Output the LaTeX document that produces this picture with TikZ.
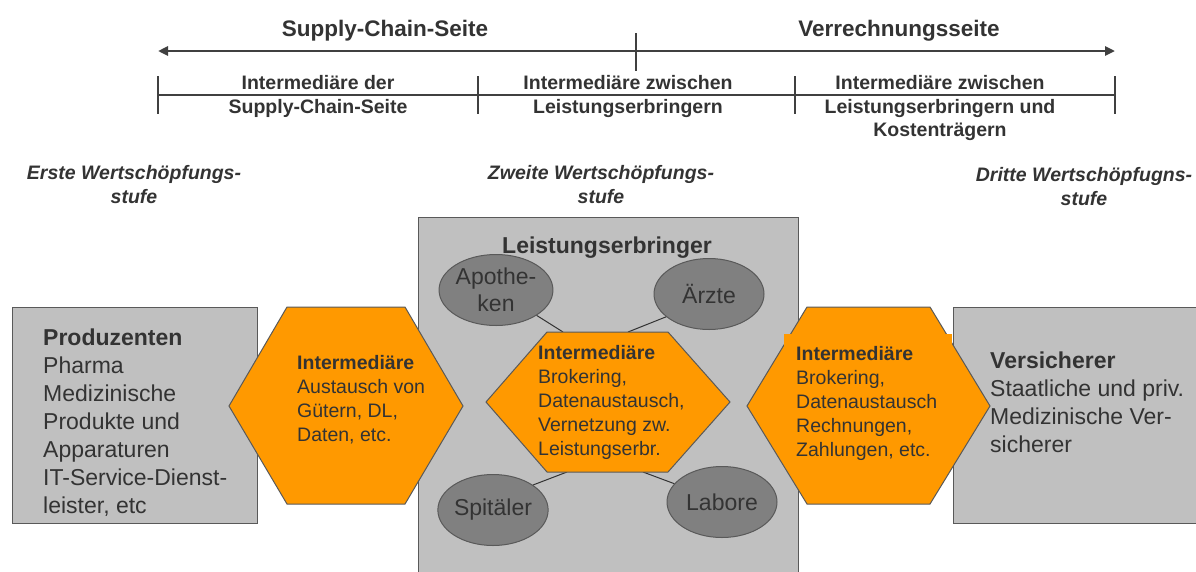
\documentclass[tikz,border=0pt]{standalone}
\usepackage{fontspec}
\setmainfont{Liberation Sans}
\usetikzlibrary{shapes.geometric,arrows.meta}
\definecolor{txt}{HTML}{333333}
\definecolor{rulec}{HTML}{404040}
\definecolor{boxgray}{HTML}{C0C0C0}
\definecolor{ellgray}{HTML}{808080}
\definecolor{orng}{HTML}{FF9900}
\definecolor{edgec}{HTML}{595959}

\begin{document}
\begin{tikzpicture}[x=1pt,y=-1pt,
  scaleline/.style={draw=rulec, line width=2.6pt},
  headfont/.style={font=\fontsize{22.5}{26}\selectfont\bfseries, text=txt, inner sep=0pt, anchor=base},
  bandfont/.style={font=\fontsize{19.5}{24}\selectfont\bfseries, text=txt, align=center, inner sep=0pt, anchor=base},
  stagefont/.style={font=\fontsize{19.5}{24}\selectfont\bfseries\itshape, text=txt, align=center, inner sep=0pt, anchor=base},
  actor/.style={draw=edgec, fill=boxgray, line width=1pt},
  actortext/.style={font=\fontsize{23}{28}\selectfont, text=txt, align=left, anchor=base west, inner sep=0pt},
  hexfill/.style={draw=edgec, fill=orng, line width=1pt},
  hextext/.style={font=\fontsize{19.5}{24}\selectfont, text=txt, align=left, anchor=base west, inner sep=0pt},
  member/.style={ellipse, draw=edgec, fill=ellgray, line width=1pt, minimum width=110pt, minimum height=71pt, inner sep=0pt, font=\fontsize{23}{27}\selectfont, text=txt, align=center},
  link/.style={draw=txt, line width=1pt}
]
\useasboundingbox (0,0) rectangle (1196,571);
\clip (0,0) rectangle (1196,571);

% ---- top scales ----
% (multi-line nodes are placed by the baseline of their last line)
\coordinate (sideL) at (158,51);
\coordinate (sideR) at (1115,51);
\coordinate (sideTop) at (636,33);
\coordinate (sideBot) at (636,71);
\draw[scaleline, {Triangle[length=10pt,width=9pt]}-{Triangle[length=10pt,width=9pt]}] (sideL) -- (sideR);
\draw[scaleline] (sideTop) -- (sideBot);
\node[headfont] (scside) at (385,36) {Supply-Chain-Seite};
\node[headfont] (vside) at (899,36) {Verrechnungsseite};

\coordinate (bandL) at (158,95);
\coordinate (bandR) at (1115,95);
\draw[scaleline] (bandL) -- (bandR);
\foreach \tx in {158,478,795,1115}
  \draw[scaleline] (\tx,76) -- (\tx,114);
\node[bandfont] (band1) at (318,113.5) {Intermediäre der\\Supply-Chain-Seite};
\node[bandfont] (band2) at (628,113.5) {Intermediäre zwischen\\Leistungserbringern};
\node[bandfont, font=\fontsize{19.5}{23.5}\selectfont\bfseries] (band3) at (940,136.5) {Intermediäre zwischen\\Leistungserbringern und\\Kostenträgern};

% ---- value-creation stages ----
\node[stagefont] (stage1) at (134,203.5) {Erste Wertschöpfungs-\\stufe};
\node[stagefont] (stage2) at (601,203.5) {Zweite Wertschöpfungs-\\stufe};
\node[stagefont] (stage3) at (1084,205) {Dritte Wertschöpfugns-\\stufe};

% ---- providers (centre block) ----
\draw[actor] (418,217) rectangle (798,590);
\node[font=\fontsize{23}{28}\selectfont\bfseries, text=txt, inner sep=0pt, anchor=base] (provtitle) at (607,253) {Leistungserbringer};

\node[member] (apo) at (496,290) {Apothe-\\ken};
\node[member] (arzt) at (709,294) {Ärzte};
\node[member] (spit) at (493,510) {Spitäler};
\node[member] (lab) at (722,502) {Labore};

\coordinate (hc1) at (563,332);
\coordinate (hc2) at (628,332);
\coordinate (hc3) at (567,472);
\coordinate (hc4) at (643,472);
\draw[link] (apo.328) -- (hc1);
\draw[link] (arzt.208) -- (hc2);
\draw[link] (spit.32) -- (hc3);
\draw[link] (lab.159) -- (hc4);

\filldraw[hexfill] (486,402) -- (547,332) -- (668,332) -- (730,402) -- (668,472) -- (547,472) -- cycle;
\node[hextext] (hexCtext) at (538,455.5) {\textbf{Intermediäre}\\Brokering,\\Datenaustausch,\\Vernetzung zw.\\Leistungserbr.};

% ---- producers ----
\draw[actor] (12,307) rectangle (257,523);
\node[actortext] (prodtext) at (43,513) {\textbf{Produzenten}\\Pharma\\Medizinische\\Produkte und\\Apparaturen\\IT-Service-Dienst-\\leister, etc};

\filldraw[hexfill] (229,406) -- (287,307) -- (405,307) -- (463,406) -- (405,504) -- (287,504) -- cycle;
\node[hextext] (hexLtext) at (297,441.5) {\textbf{Intermediäre}\\Austausch von\\Gütern, DL,\\Daten, etc.};

% ---- insurers ----
\draw[actor] (953,307) rectangle (1220,523);
\node[actortext] (instext) at (990,452) {\textbf{Versicherer}\\Staatliche und priv.\\Medizinische Ver-\\sicherer};

\filldraw[hexfill] (747,406) -- (807,307) -- (930,307) -- (990,406) -- (930,504) -- (807,504) -- cycle;
\fill[orng] (784,334) rectangle (952,462);
\node[hextext] (hexRtext) at (796,456.5) {\textbf{Intermediäre}\\Brokering,\\Datenaustausch\\Rechnungen,\\Zahlungen, etc.};
\end{tikzpicture}
\end{document}
